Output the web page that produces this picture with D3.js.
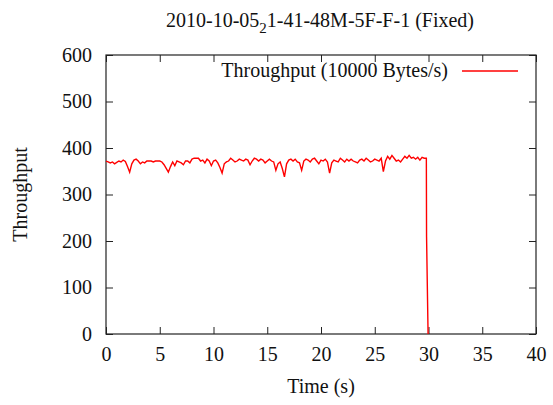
<!DOCTYPE html>
<html>
<head>
<meta charset="utf-8">
<script src="https://cdn.jsdelivr.net/npm/d3@7"></script>
<style>
  body { margin: 0; background: #fff; }
  text { font-family: "Liberation Serif", "Times New Roman", serif; fill: #111; }
</style>
</head>
<body>
<svg width="553" height="405"></svg>
<script>
const margin = { top: 55, right: 17, bottom: 71, left: 106 };
const width = 553 - margin.left - margin.right;
const height = 405 - margin.top - margin.bottom;

// throughput samples, one every 0.2 s starting at t = 0
const sampleStep = 0.2;
const throughput = [
    372, 370, 368, 370, 366, 369, 372, 370, 374, 371,
    360, 348, 366, 374, 376, 372, 366, 370, 368, 372,
    372, 372, 370, 372, 372, 372, 370, 364, 356, 348,
    360, 370, 362, 372, 370, 368, 364, 372, 372, 368,
    376, 378, 378, 378, 372, 374, 368, 376, 372, 362,
    372, 374, 368, 358, 346, 366, 370, 372, 378, 374,
    370, 372, 376, 374, 372, 376, 374, 364, 372, 378,
    376, 372, 376, 374, 368, 372, 376, 372, 370, 352,
    366, 370, 356, 338, 366, 374, 376, 372, 376, 370,
    368, 352, 372, 376, 374, 370, 376, 378, 372, 366,
    374, 372, 376, 370, 346, 368, 374, 372, 370, 378,
    374, 370, 376, 372, 376, 372, 370, 368, 374, 376,
    372, 378, 374, 370, 372, 376, 374, 372, 378, 349,
    372, 382, 376, 384, 378, 372, 374, 370, 376, 382,
    378, 384, 378, 380, 376, 380, 374, 380, 378, 378
];
// the drop at the end of the run
const tailTimes = [29.82, 29.96];
const tailValues = [209, 0];

const xTicks = [0, 5, 10, 15, 20, 25, 30, 35, 40];
const yTicks = [0, 100, 200, 300, 400, 500, 600];

const data = throughput.map((v, i) => ({ t: i * sampleStep, v: v }));
tailTimes.forEach((t, i) => data.push({ t: t, v: tailValues[i] }));

const fontSize = "20px";

const svg = d3.select("svg");
const g = svg.append("g")
    .attr("transform", "translate(" + margin.left + "," + margin.top + ")");

const x = d3.scaleLinear().domain([0, 40]).range([0, width]);
const y = d3.scaleLinear().domain([0, 600]).range([height, 0]);

// tick marks on all four sides, pointing inward (gnuplot style)
const tickLen = 7;
g.append("g")
    .attr("transform", "translate(0," + height + ")")
    .call(d3.axisBottom(x).tickValues(xTicks).tickSize(-tickLen).tickPadding(13))
    .call(a => a.select(".domain").remove());
g.append("g")
    .call(d3.axisTop(x).tickValues(xTicks).tickSize(-tickLen).tickFormat(""))
    .call(a => a.select(".domain").remove());
g.append("g")
    .call(d3.axisLeft(y).tickValues(yTicks).tickSize(-tickLen).tickPadding(14))
    .call(a => a.select(".domain").remove());
g.append("g")
    .attr("transform", "translate(" + width + ",0)")
    .call(d3.axisRight(y).tickValues(yTicks).tickSize(-tickLen).tickFormat(""))
    .call(a => a.select(".domain").remove());

g.selectAll(".tick line").attr("stroke", "#222").attr("stroke-width", 1);
g.selectAll(".tick text")
    .style("font-size", fontSize)
    .style("font-family", "Liberation Serif, serif")
    .attr("fill", "#111");

// frame
g.append("rect")
    .attr("width", width)
    .attr("height", height)
    .attr("fill", "none")
    .attr("stroke", "#222")
    .attr("stroke-width", 1.2);

// data line
const line = d3.line().x(d => x(d.t)).y(d => y(d.v));
g.append("path")
    .datum(data)
    .attr("fill", "none")
    .attr("stroke", "#ff0000")
    .attr("stroke-width", 1.4)
    .attr("d", line);

// legend
g.append("text")
    .attr("x", 342)
    .attr("y", 22)
    .attr("text-anchor", "end")
    .style("font-size", fontSize)
    .text("Throughput (10000 Bytes/s)");
g.append("line")
    .attr("x1", 356).attr("x2", 412)
    .attr("y1", 16).attr("y2", 16)
    .attr("stroke", "#ff0000")
    .attr("stroke-width", 1.4);

// title with gnuplot-style subscript
const title = svg.append("text")
    .attr("x", 320)
    .attr("y", 27)
    .attr("text-anchor", "middle")
    .style("font-size", fontSize);
title.append("tspan").text("2010-10-05");
title.append("tspan").attr("dy", 6).style("font-size", "15px").text("2");
title.append("tspan").attr("dy", -6).text("1-41-48M-5F-F-1 (Fixed)");

// axis labels
svg.append("text")
    .attr("x", margin.left + width / 2)
    .attr("y", 393)
    .attr("text-anchor", "middle")
    .style("font-size", fontSize)
    .text("Time (s)");
svg.append("text")
    .attr("transform", "translate(27," + (margin.top + height / 2) + ") rotate(-90)")
    .attr("text-anchor", "middle")
    .style("font-size", fontSize)
    .text("Throughput");
</script>
</body>
</html>
